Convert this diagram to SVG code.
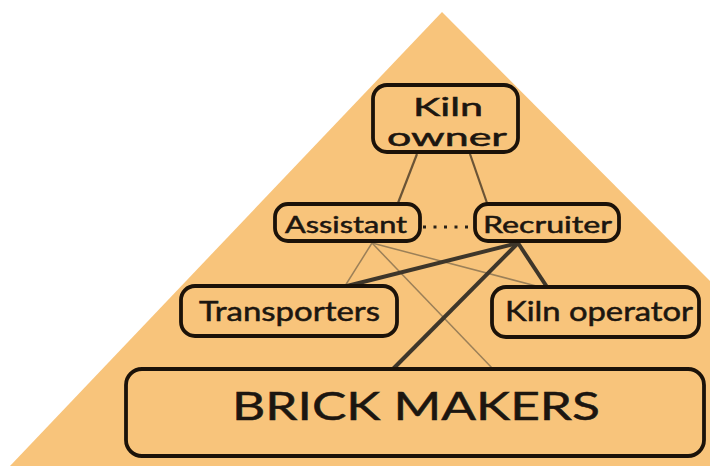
<svg xmlns="http://www.w3.org/2000/svg" width="710" height="466" viewBox="0 0 710 466">
<style>
.box{fill:#F8C47B;stroke:#1b1209;stroke-width:3.8}
.t{font-family:Lato,"Open Sans","Liberation Sans",sans-serif;fill:#1c1610;stroke:#1c1610;stroke-width:0.5;text-anchor:start}
.thin{stroke:#9c8058;stroke-width:1.5;fill:none}
.thick{stroke:#3e362a;stroke-width:4;fill:none}
.mid{stroke:#6b5436;stroke-width:2.2;fill:none}
</style>
<rect width="710" height="466" fill="#ffffff"/>
<polygon points="442,12 710,281 710,466 10,466" fill="#F8C47B"/>
<g id="connectors">
<line class="mid" x1="417" y1="154" x2="398" y2="203"/>
<line class="mid" x1="470" y1="154" x2="487" y2="203"/>
<line x1="423" y1="227" x2="473" y2="227" stroke="#2a2218" stroke-width="3" stroke-dasharray="3 7.5"/>
<line class="thin" x1="372" y1="243" x2="345" y2="286"/>
<line class="thin" x1="372" y1="243" x2="493" y2="369"/>
<line class="thin" x1="372" y1="243" x2="540" y2="287"/>
<line class="thick" x1="518" y1="243" x2="347" y2="286"/>
<line class="thick" x1="518" y1="243" x2="393" y2="369"/>
<line class="thick" x1="518" y1="243" x2="547" y2="287"/>
</g>
<g id="kiln-owner">
<rect class="box" x="373" y="85" width="145" height="67" rx="14"/>
<text class="t" x="413" y="116" font-size="25" textLength="70" lengthAdjust="spacingAndGlyphs">Kiln</text>
<text class="t" x="387" y="146" font-size="25" textLength="120" lengthAdjust="spacingAndGlyphs">owner</text>
</g>
<g id="assistant">
<rect class="box" x="275" y="204" width="145" height="37" rx="13"/>
<text class="t" x="285" y="233" font-size="23" textLength="122" lengthAdjust="spacingAndGlyphs">Assistant</text>
</g>
<g id="recruiter">
<rect class="box" x="475" y="204" width="144" height="37" rx="13"/>
<text class="t" x="483" y="233" font-size="23" textLength="129" lengthAdjust="spacingAndGlyphs">Recruiter</text>
</g>
<g id="transporters">
<rect class="box" x="181" y="286" width="216" height="50" rx="14"/>
<text class="t" x="199" y="321" font-size="26" textLength="181" lengthAdjust="spacingAndGlyphs">Transporters</text>
</g>
<g id="kiln-operator">
<rect class="box" x="492" y="287" width="207" height="50" rx="14"/>
<text class="t" x="505" y="321" font-size="26" textLength="188" lengthAdjust="spacingAndGlyphs">Kiln operator</text>
</g>
<g id="brick-makers">
<rect class="box" x="126" y="369" width="578" height="87" rx="16"/>
<text class="t" x="232" y="420" font-size="39" textLength="368" lengthAdjust="spacingAndGlyphs">BRICK MAKERS</text>
</g>
</svg>
